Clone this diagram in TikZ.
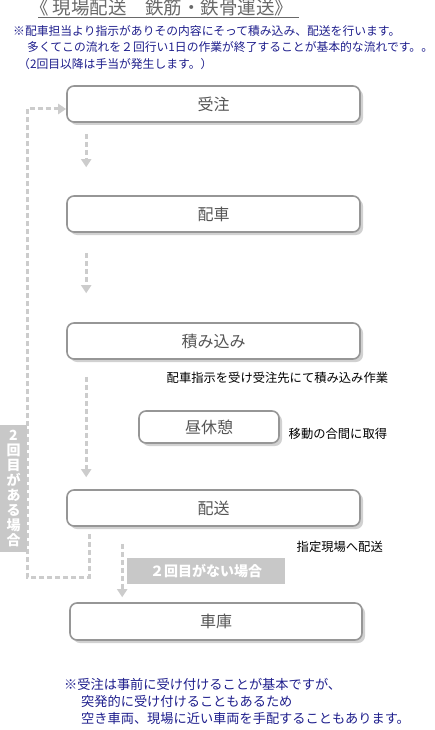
\documentclass[tikz,border=0pt]{standalone}
\usepackage{fontspec}
\setmainfont{Noto Sans CJK JP}
\usetikzlibrary{arrows.meta,shadows}
\definecolor{boxline}{RGB}{150,150,150}
\definecolor{boxtext}{RGB}{85,85,85}
\definecolor{flowgray}{RGB}{204,204,204}
\definecolor{tagfill}{RGB}{200,200,200}
\definecolor{navy}{RGB}{30,30,140}
\definecolor{titlegray}{RGB}{105,105,105}
\tikzset{
  box/.style={rectangle, rounded corners=7pt, draw=boxline, line width=1.6pt,
    fill=white, text=boxtext, font=\fontsize{16}{19}\selectfont, inner sep=0pt,
    minimum width=293pt, minimum height=36pt,
    drop shadow={shadow xshift=3pt, shadow yshift=-3pt, fill=black!60, opacity=0.3}},
  flow/.style={-{Triangle[length=8pt,width=10pt]}, draw=flowgray, line width=3pt,
    dash pattern=on 5pt off 3pt},
  tag/.style={fill=tagfill, text=white, inner sep=0pt, font=\bfseries\fontsize{14}{15}\selectfont},
  note/.style={anchor=base west, inner sep=0pt, text=navy, font=\fontsize{11.8}{14}\selectfont},
  footnote/.style={note, font=\fontsize{13.2}{16}\selectfont},
  remark/.style={anchor=base west, inner sep=0pt, text=black, font=\fontsize{12.3}{14}\selectfont},
}
\begin{document}
\begin{tikzpicture}[x=1pt, y=-1pt]
\useasboundingbox (0,0) rectangle (435,730);
% title and notes
\node[anchor=base west, inner sep=0pt, text=titlegray, font=\fontsize{18.5}{20}\selectfont] (title) at (30,15) {《 現場配送　鉄筋・鉄骨運送》};
\draw[titlegray, line width=1pt] ([xshift=8pt,yshift=-2.5pt]title.base west) -- ([xshift=5pt,yshift=-2.5pt]title.base east);
\node[note] (note1) at (13,35.5) {※配車担当より指示がありその内容にそって積み込み、配送を行います。};
\node[note] (note2) at (27,51.5) {多くてこの流れを２回行い1日の作業が終了することが基本的な流れです。。};
\node[note] (note3) at (18,68.5) {（2回目以降は手当が発生します。）};
% flow boxes
\node[box] (order)    at (213.5,104) {受注};
\node[box] (dispatch) at (213.5,214) {配車};
\node[box] (loading)  at (213.5,341) {積み込み};
\node[box, minimum width=140pt, minimum height=32pt] (lunch) at (209,427) {昼休憩};
\node[box] (delivery) at (213.5,508) {配送};
\node[box, minimum width=292pt, minimum height=37pt] (garage) at (216,621.5) {車庫};
% remarks
\node[remark] (rload) at (166.5,382.5) {配車指示を受け受注先にて積み込み作業};
\node[remark] (rlunch) at (288.5,438.5) {移動の合間に取得};
\node[remark] (rdeliv) at (296.5,551.5) {指定現場へ配送};
% flows
\draw[flow, shorten <=11pt, shorten >=28pt] ([xshift=20pt]order.south west) -- ([xshift=20pt]dispatch.north west);
\draw[flow, shorten <=20pt, shorten >=29pt] ([xshift=20pt]dispatch.south west) -- ([xshift=20pt]loading.north west);
\draw[flow, shorten <=17pt, shorten >=12pt] ([xshift=20pt]loading.south west) -- ([xshift=20pt]delivery.north west);
\draw[flow, shorten <=17pt, shorten >=5pt] ([xshift=56pt]delivery.south west) -- ([xshift=53pt]garage.north west);
\coordinate (loopc) at (27,577);
\draw[flow] ([xshift=23pt, yshift=-7pt]delivery.south west) |- (loopc) |- ([yshift=-5pt]order.west);
% tags
\node[tag, minimum width=27pt, minimum height=127pt, align=center] (again) at (13.5,488.5)
  {2\\回\\目\\が\\あ\\る\\場\\合};
\node[tag, minimum width=158pt, minimum height=26pt] (noagain) at (206,571) {２回目がない場合};
% closing note
\node[footnote] (foot1) at (64,689.5) {※受注は事前に受け付けることが基本ですが、};
\node[footnote] (foot2) at (81,706) {突発的に受け付けることもあるため};
\node[footnote] (foot3) at (81,723) {空き車両、現場に近い車両を手配することもあります。};
\end{tikzpicture}
\end{document}
